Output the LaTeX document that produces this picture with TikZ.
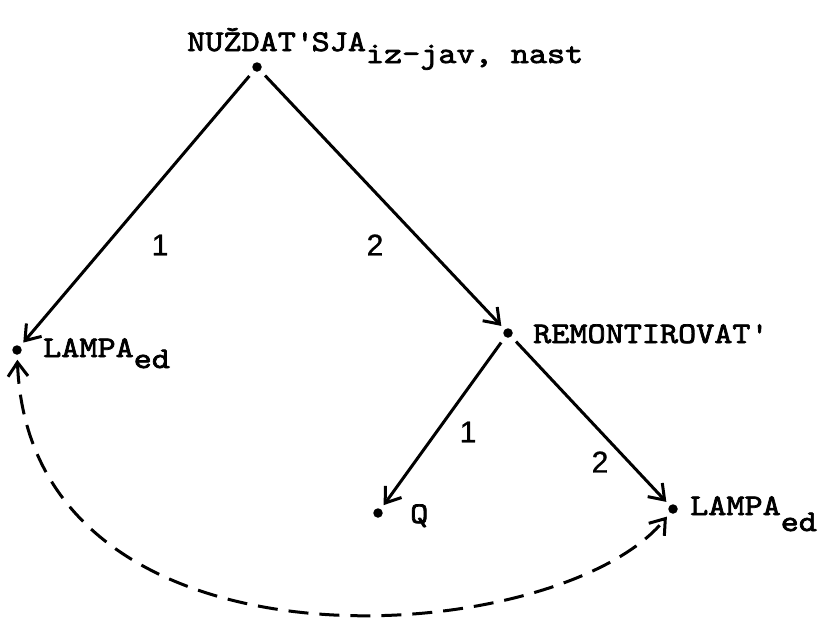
\documentclass[tikz,border=0pt]{standalone}
\usepackage{fontspec}
\newfontfamily\tw{lmmono10-regular}[Extension=.otf,FakeBold=2.4,FakeStretch=1.15]
\newfontfamily\labfont{Liberation Sans}[FakeBold=1]
\usetikzlibrary{arrows.meta}
\begin{document}
\begin{tikzpicture}[x=1pt,y=-1pt,
  dot/.style={circle,fill,inner sep=0pt,minimum size=9.5pt,outer sep=1pt},
  word/.style={font=\tw\fontsize{30}{30}\selectfont,anchor=base west,inner sep=0pt},
  num/.style={font=\labfont\fontsize{30}{30}\selectfont,inner sep=0pt},
  barb/.tip={Straight Barb[length=14pt,width=20pt,line width=3pt]},
  arc/.style={line width=3pt,shorten <=6pt,shorten >=4pt,-barb},
  corefer/.style={line width=3pt,dash pattern=on 20pt off 11pt,shorten <=4pt,shorten >=4pt,barb-barb}]
\useasboundingbox (0,0) rectangle (822,625);
% dots
\node[dot] (top) at (257,67) {};
\node[dot] (lampaL) at (17,350) {};
\node[dot] (remont) at (508,333) {};
\node[dot] (q) at (378,513) {};
\node[dot] (lampaR) at (673,509) {};
% words
\node[word] (tTop) at (187,51) {NUŽDAT\textquotesingle SJA\raisebox{-12pt}{iz-jav, nast}};
\node[word] (tLampaL) at (43,357) {LAMPA\raisebox{-11pt}{ed}};
\node[word] (tRemont) at (533,343) {REMONTIROVAT\textquotesingle};
\node[word] (tQ) at (410,523) {Q};
\node[word] (tLampaR) at (690,515) {LAMPA\raisebox{-16pt}{ed}};
% arcs
\draw[arc] (top) -- (lampaL);
\draw[arc] (top) -- (remont);
\draw[arc] (remont) -- (q);
\draw[arc] (remont) -- (lampaR);
\node[num] (n1a) at (160,245) {1};
\node[num] (n2a) at (375,245) {2};
\node[num] (n1b) at (468,432) {1};
\node[num] (n2b) at (600,462) {2};
% coreference
\draw[corefer] (lampaL) .. controls (30,690) and (560,650) .. (lampaR);
\end{tikzpicture}
\end{document}
